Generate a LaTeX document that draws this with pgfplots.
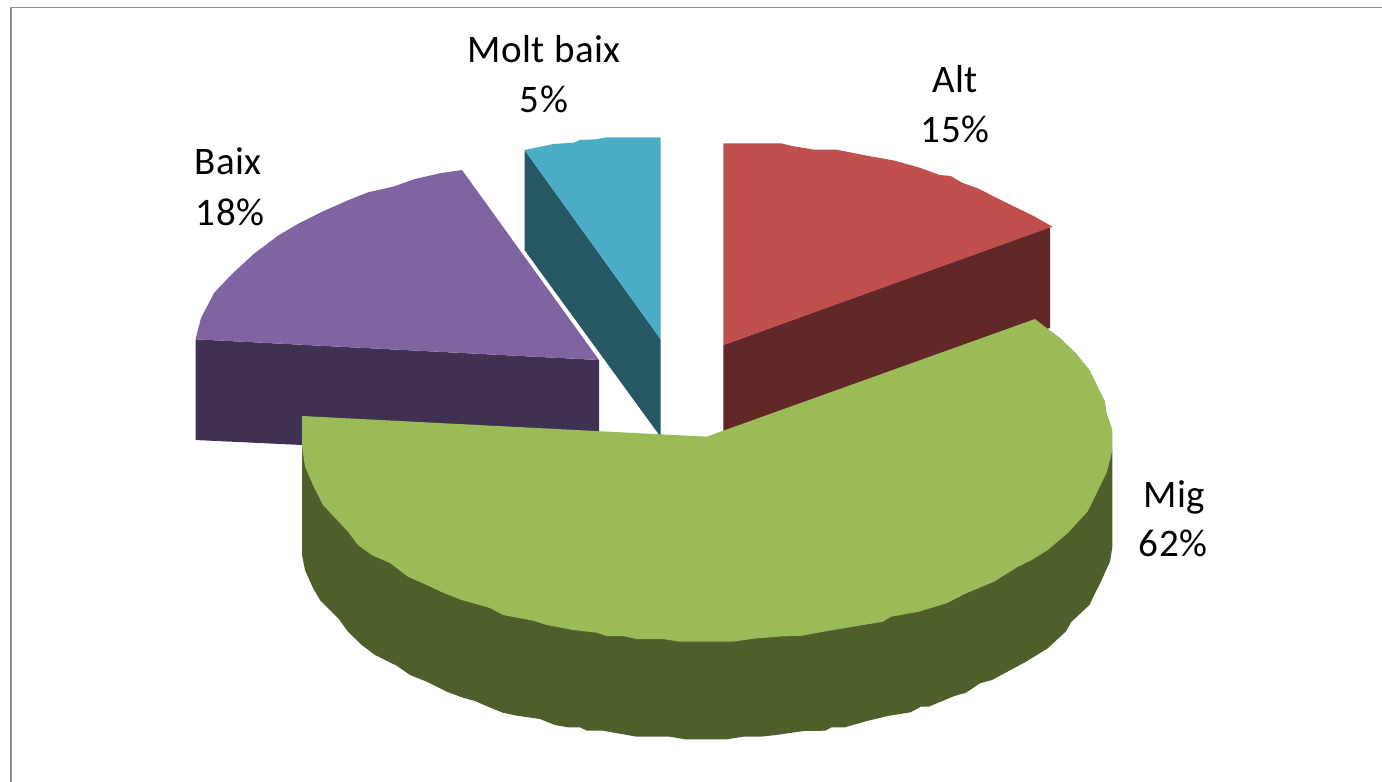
\documentclass[border=0pt]{standalone}
\usepackage{pgfplots}
\pgfplotsset{compat=1.18}
\usepackage{fontspec}
\setmainfont[LetterSpace=1.5]{Carlito}
\definecolor{RedTop}{HTML}{C0504D}
\definecolor{RedSide}{HTML}{622727}
\definecolor{GreenTop}{HTML}{9BBB59}
\definecolor{GreenSide}{HTML}{4F5F2C}
\definecolor{PurpleTop}{HTML}{8064A2}
\definecolor{PurpleSide}{HTML}{403152}
\definecolor{TealTop}{HTML}{4BACC6}
\definecolor{TealSide}{HTML}{255765}
\definecolor{Frame}{HTML}{8E8E8E}
\tikzset{lab/.style={anchor=base,font=\fontsize{19.5pt}{19.5pt}\selectfont,text=black,inner sep=0pt}}
\begin{document}
\begin{tikzpicture}
\path[use as bounding box,fill=white] (0,0) rectangle (691pt,391pt);
\begin{axis}[
  at={(0,0)},anchor=south west,
  scale only axis,width=691pt,height=391pt,
  xmin=0,xmax=1382,ymin=0,ymax=782,
  y dir=reverse,hide axis,clip=false,
  every axis plot/.append style={no markers,sharp plot,draw=none}
]
% frame
\addplot[draw=Frame,line width=0.75pt] coordinates {(11,782)(11,7.5)(1382,7.5)};
% purple slice
\addplot[fill=PurpleSide] coordinates {(195.5,339.3)(599,360)(599,432)(302,445)(195.5,440)};
\addplot[fill=PurpleTop] coordinates {(195.5,339.3)(201,318)(214,293)(232,274)(254.5,253.3)(279,235)(299,223.3)(323.7,211)(350.4,199.3)(368,192.3)(393,186.7)(415,179)(440,173.3)(462,170)(599,360)};
% teal slice
\addplot[fill=TealSide] coordinates {(524.5,150)(660.7,339.3)(660.7,437)(524.5,250)};
\addplot[fill=TealTop] coordinates {(524.5,150)(553.6,144)(573.7,142.7)(580,140)(596,139.3)(607,137.3)(660.7,137.3)(660.7,339.3)};
% red slice
\addplot[fill=RedSide] coordinates {(723.4,345)(1050,226.7)(1050,328)(723.4,431)};
\addplot[fill=RedTop] coordinates {(723.4,143.3)(780.7,143.3)(792,146)(814.3,149.7)(836.7,149.7)(863.5,155)(894.9,160.7)(919.5,167.7)(939.6,175)(950.8,176)(962,182.7)(977.7,188.3)(1006.8,203)(1033.6,216)(1052.4,226.7)(723.4,345)};
% green slice
\addplot[fill=GreenSide] coordinates {(302,446)(302,555)(305,570)(313,588)(320,600)(338,618)(348,631.7)(361.7,645)(375,655)(396.7,665.7)(410,675)(426.7,681.7)(446.7,691.7)(463,697.7)(475,701)(488,706.7)(503,712.7)(516.7,715.7)(540,719)(555,725)(568,727.3)(580,727.3)(586.7,730.7)(603,730.7)(636.7,736.7)(670,736.7)(685,739.3)(726.7,739.3)(743,736.7)(760,736.7)(776,735)(803.7,731)(825.5,730.7)(831.4,727.3)(845,727.3)(867,721)(889,715.7)(910.8,712.3)(920.7,706.7)(928.7,706.7)(954.4,696)(966,692.7)(980,683.3)(992,680)(1026,661.7)(1047.7,648.3)(1065.6,631.7)(1071.5,621.7)(1089.4,605)(1095,593.3)(1101,581.7)(1106,570)(1110,561.7)(1112.4,546.7)(1112.4,450)};
\addplot[fill=GreenTop] coordinates {(302,416)(706.7,436.7)(723.3,430.7)(1035,319)(1047,328.3)(1060.5,338.3)(1076,353.3)(1089.6,370)(1105,401.7)(1106.6,413)(1112.4,430)(1112.4,450)(1107,471.7)(1091,505)(1087.4,511.7)(1067.5,533.3)(1047.7,550)(1031.8,560)(1018,566.7)(994,581.7)(966,593.3)(946.5,603.3)(918.7,611.7)(891,616.7)(883,621.7)(853,626.7)(823.5,631.7)(801.7,635.7)(780,636.5)(753,638.7)(733,641.7)(680,641.7)(663,639)(636.7,639)(623,636)(606.7,636)(596.7,632.7)(573,630)(546.7,625)(533,620.7)(503,615)(490,608)(461.7,600)(443,592.7)(426.7,585)(408,576.7)(390,563)(371.7,555)(358,545)(348,531.7)(323,505)(313,485)(305,466.7)(302,446.7)};
% labels
\node[lab] at (axis cs:544,62) {Molt baix};
\node[lab] at (axis cs:544,112) {5\%};
\node[lab] at (axis cs:955,92) {Alt};
\node[lab] at (axis cs:955,142) {15\%};
\node[lab] at (axis cs:228,174) {Baix};
\node[lab] at (axis cs:230,225) {18\%};
\node[lab] at (axis cs:1174,507) {Mig};
\node[lab] at (axis cs:1173,556) {62\%};
\end{axis}
\end{tikzpicture}
\end{document}
